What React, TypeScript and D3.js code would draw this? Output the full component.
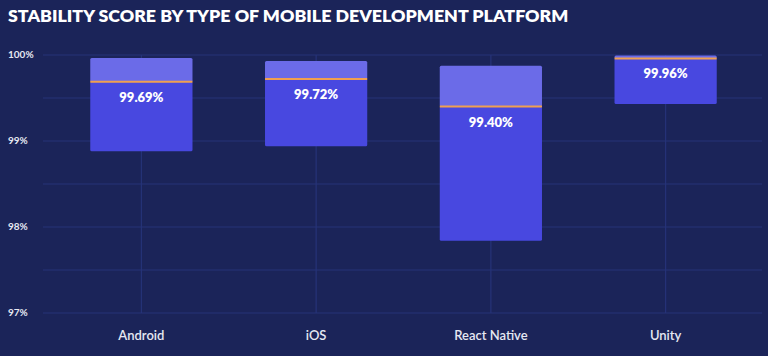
import React from "react";
import * as d3 from "d3";

const categories = ["Android", "iOS", "React Native", "Unity"];
const q1Values = [98.88, 98.94, 97.84, 99.43];
const medianValues = [99.69, 99.72, 99.4, 99.96];
const q3Values = [99.965, 99.93, 99.875, 99.995];
const yTicks = [97, 98, 99, 100];
const yGrid = [97, 97.5, 98, 98.5, 99, 99.5, 100];

const W = 768;
const H = 356;

export default function App() {
  const x = d3.scaleBand<string>().domain(categories).range([54, 753]).padding(0);
  const y = d3.scaleLinear().domain([97, 100]).range([313, 55]);
  const bw = x.bandwidth() * 0.585;
  const font = "Lato, 'Open Sans', sans-serif";
  return (
    <svg width={W} height={H} style={{ position: "absolute", left: 0, top: 0 }}>
      <rect x={0} y={0} width={W} height={H} fill="#1b2459" />
      <text x={8} y={22} fill="#ffffff" fontFamily={font} fontWeight={800} fontSize={17.8}>
        STABILITY SCORE BY TYPE OF MOBILE DEVELOPMENT PLATFORM
      </text>
      {yGrid.map((v) => (
        <line key={"h" + v} x1={43} x2={762} y1={y(v)} y2={y(v)} stroke="#263378" strokeWidth={1.2} />
      ))}
      {categories.map((c) => {
        const cx = (x(c) as number) + x.bandwidth() / 2;
        return <line key={"v" + c} x1={cx} x2={cx} y1={y(100)} y2={y(97)} stroke="#263378" strokeWidth={1.2} />;
      })}
      {yTicks.map((v) => (
        <text key={"t" + v} x={8} y={y(v) + 3} fill="#e6e8f2" fontFamily={font} fontWeight={700} fontSize={10}>
          {v}%
        </text>
      ))}
      {categories.map((c, i) => {
        const cx = (x(c) as number) + x.bandwidth() / 2;
        const x0 = cx - bw / 2;
        return (
          <g key={c}>
            <rect x={x0} y={y(q3Values[i])} width={bw} height={y(medianValues[i]) - y(q3Values[i])} fill="#6b6be8" rx={1.5} />
            <rect x={x0} y={y(medianValues[i])} width={bw} height={y(q1Values[i]) - y(medianValues[i])} fill="#4848e0" rx={1.5} />
            <line x1={x0} x2={x0 + bw} y1={y(medianValues[i])} y2={y(medianValues[i])} stroke="#f0a050" strokeWidth={2} />
            <text x={cx} y={y(medianValues[i]) + 20} textAnchor="middle" fill="#ffffff" fontFamily={font} fontWeight={800} fontSize={13}>
              {medianValues[i].toFixed(2)}%
            </text>
            <text x={cx} y={340} textAnchor="middle" fill="#e6e8f2" fontFamily={font} fontWeight={600} fontSize={13}>
              {c}
            </text>
          </g>
        );
      })}
    </svg>
  );
}
